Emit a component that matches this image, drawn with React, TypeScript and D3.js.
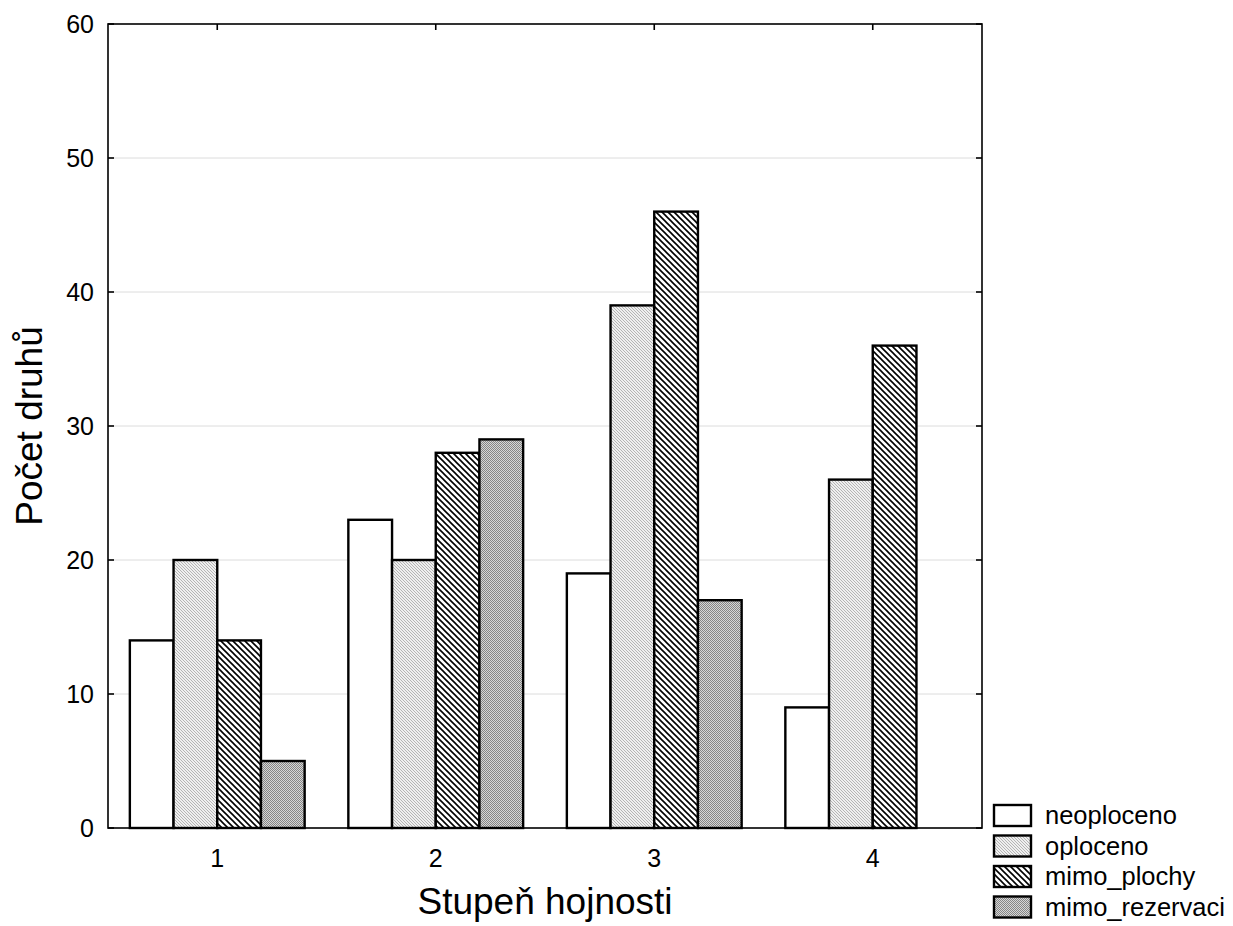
import React from "react";
import * as d3 from "d3";

const categories = ["1", "2", "3", "4"];
const seriesNames = ["neoploceno", "oploceno", "mimo_plochy", "mimo_rezervaci"];
const neoploceno = [14, 23, 19, 9];
const oploceno = [20, 20, 39, 26];
const mimoPlochy = [14, 28, 46, 36];
const mimoRezervaci = [5, 29, 17, 0];
const yTicks = [0, 10, 20, 30, 40, 50, 60];

const seriesValues = [neoploceno, oploceno, mimoPlochy, mimoRezervaci];
const fills = ["#ffffff", "url(#patOplo)", "url(#patPlochy)", "url(#patRez)"];

export default function App() {
  const W = 1233, H = 926;
  const left = 108, right = 982, top = 24, bottom = 828;
  const x = d3.scaleBand<string>().domain(categories).range([left, right]).paddingInner(0).paddingOuter(0);
  const x1 = d3.scaleBand<string>().domain(seriesNames).range([0, x.bandwidth()]).paddingInner(0).paddingOuter(0.5);
  const y = d3.scaleLinear().domain([0, 60]).range([bottom, top]);
  const font = "Liberation Sans, Arial, sans-serif";

  return (
    <svg width={W} height={H} style={{ position: "absolute", left: 0, top: 0, background: "#fff" }}>
      <defs>
        <pattern id="patPlochy" patternUnits="userSpaceOnUse" width="6" height="6">
          <rect width="6" height="6" fill="#fff" />
          <path d="M0,0 L6,6 M-3,3 L3,9 M3,-3 L9,3" stroke="#000" strokeWidth="1.6" />
        </pattern>
        <pattern id="patOplo" patternUnits="userSpaceOnUse" width="3" height="3">
          <rect width="3" height="3" fill="#efefef" />
          <rect x="0" y="0" width="1" height="1" fill="#b4b4b4" />
          <rect x="1" y="1" width="1" height="1" fill="#b4b4b4" />
          <rect x="2" y="2" width="1" height="1" fill="#b4b4b4" />
        </pattern>
        <pattern id="patRez" patternUnits="userSpaceOnUse" width="2" height="2">
          <rect width="2" height="2" fill="#d6d6d6" />
          <rect x="0" y="0" width="1" height="1" fill="#858585" />
          <rect x="1" y="1" width="1" height="1" fill="#858585" />
        </pattern>
      </defs>

      {/* gridlines */}
      {yTicks.filter(t => t > 0 && t < 60).map(t => (
        <line key={"g" + t} x1={left} x2={right} y1={y(t)} y2={y(t)} stroke="#dcdcdc" strokeWidth={1} />
      ))}

      {/* bars */}
      {categories.map((c, ci) => (
        <g key={c}>
          {seriesNames.map((s, si) => {
            const v = seriesValues[si][ci];
            if (!v) return null;
            const bx = (x(c) as number) + (x1(s) as number);
            return (
              <rect key={s} x={bx} y={y(v)} width={x1.bandwidth()} height={y(0) - y(v)}
                fill={fills[si]} stroke="#000" strokeWidth={2.4} />
            );
          })}
        </g>
      ))}

      {/* frame */}
      <rect x={left} y={top} width={right - left} height={bottom - top} fill="none" stroke="#000" strokeWidth={1.6} />

      {/* y ticks */}
      {yTicks.map(t => (
        <g key={"y" + t}>
          <line x1={left} x2={left + 6} y1={y(t)} y2={y(t)} stroke="#000" strokeWidth={1.6} />
          <line x1={right} x2={right - 6} y1={y(t)} y2={y(t)} stroke="#000" strokeWidth={1.6} />
          <text x={94} y={y(t)} dy="0.35em" textAnchor="end" fontFamily={font} fontSize={25} fill="#000">{t}</text>
        </g>
      ))}

      {/* x ticks */}
      {categories.map(c => {
        const cx = (x(c) as number) + x.bandwidth() / 2;
        return (
          <g key={"x" + c}>
            <line x1={cx} x2={cx} y1={top} y2={top + 6} stroke="#000" strokeWidth={1.6} />
            <text x={cx} y={867} textAnchor="middle" fontFamily={font} fontSize={25} fill="#000">{c}</text>
          </g>
        );
      })}

      {/* axis titles */}
      <text x={(left + right) / 2} y={914} textAnchor="middle" fontFamily={font} fontSize={37} fill="#000">Stupeň hojnosti</text>
      <text transform={`translate(42,${(top + bottom) / 2}) rotate(-90)`} textAnchor="middle" fontFamily={font} fontSize={37} fill="#000">Počet druhů</text>

      {/* legend */}
      {seriesNames.map((s, i) => {
        const ly = 805 + i * 30.5;
        return (
          <g key={"l" + s}>
            <rect x={994} y={ly} width={37} height={21} fill={fills[i]} stroke="#000" strokeWidth={2.4} />
            <text x={1045} y={ly + 10.5} dy="0.35em" fontFamily={font} fontSize={25.5} fill="#000">{s}</text>
          </g>
        );
      })}
    </svg>
  );
}
